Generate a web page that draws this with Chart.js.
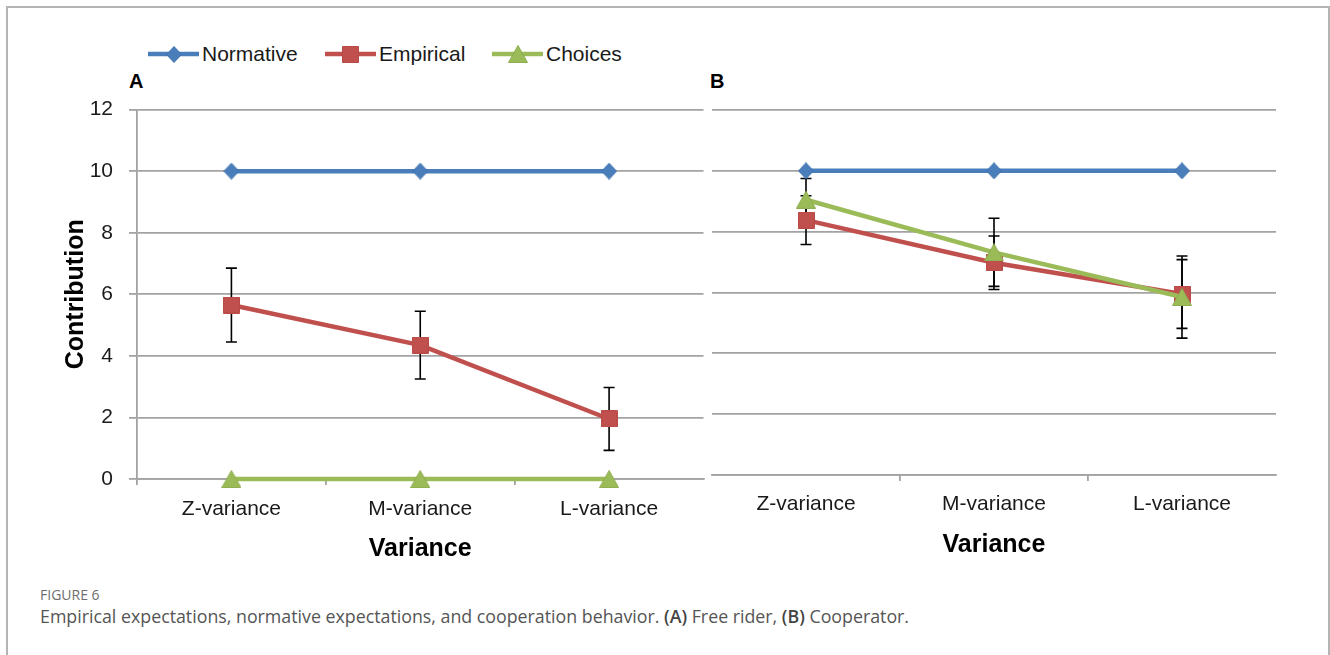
<!DOCTYPE html>
<html>
<head>
<meta charset="utf-8">
<script src="https://cdn.jsdelivr.net/npm/chart.js@4.4.1/dist/chart.umd.min.js"></script>
<style>
  html, body { margin: 0; padding: 0; background: #fff; }
  #page { position: relative; width: 1330px; height: 655px; overflow: hidden; font-family: "Liberation Sans", Arial, sans-serif; }
  #frame { position: absolute; left: 6px; top: 6px; width: 1320px; height: 700px; border: 2px solid #b4b4b4; }
  .leg { position: absolute; top: 40px; height: 28px; display: flex; align-items: center; font-size: 21px; color: #1a1a1a; white-space: nowrap; }
  .leg canvas { margin-right: 3px; }
  .panel { position: absolute; top: 70px; font-weight: bold; font-size: 20px; color: #000; }
  #chartA { position: absolute; left: 0; top: 81px; }
  #chartB { position: absolute; left: 700px; top: 88px; }
  #figno { position: absolute; left: 40px; top: 585px; font-family: "Open Sans", sans-serif; font-size: 14px; color: #6e6e6e; }
  #caption { position: absolute; left: 40px; top: 604px; font-family: "Open Sans", sans-serif; font-size: 17.8px; color: #555; white-space: nowrap; }
  #caption b { font-weight: 600; color: #444; }
</style>
</head>
<body>
<div id="page">
  <div id="frame"></div>
  <div class="leg" style="left:148px"><canvas id="legN" width="51" height="22"></canvas>Normative</div>
  <div class="leg" style="left:325px"><canvas id="legE" width="51" height="22"></canvas>Empirical</div>
  <div class="leg" style="left:492px"><canvas id="legC" width="51" height="22"></canvas>Choices</div>
  <div class="panel" style="left:129px">A</div>
  <div class="panel" style="left:710px">B</div>
  <canvas id="chartA" width="712" height="489"></canvas>
  <canvas id="chartB" width="630" height="482"></canvas>
  <div id="figno">FIGURE 6</div>
  <div id="caption">Empirical expectations, normative expectations, and cooperation behavior. <b>(A)</b> Free rider, <b>(B)</b> Cooperator.</div>
</div>
<script>
// Categories and tick labels
const categories = ['Z-variance', 'M-variance', 'L-variance'];
const yTicks = [0, 2, 4, 6, 8, 10, 12];
const seriesNames = ['Normative', 'Empirical', 'Choices'];

// Panel A: free riders
const normativeA = [10, 10, 10];
const empiricalA = [5.65, 4.35, 1.95];
const empiricalErrA = [1.2, 1.1, 1.02];
const choicesA = [0, 0, 0];

// Panel B: cooperators
const normativeB = [10, 10, 10];
const empiricalB = [8.38, 6.98, 5.95];
const empiricalErrB = [0.8, 0.88, 1.13];
const choicesB = [9.05, 7.32, 5.85];
const choicesErrB = [0.7, 1.12, 1.35];

const BLUE = '#4A7EBB', RED = '#C0504D', GREEN = '#9BBB59';
const GRID = '#a3a3a3';
const FONT = '"Liberation Sans", Arial, sans-serif';

// Excel-style marker bitmaps, centred on their bounding box
function makeMarker(shape, fill, stroke) {
  const c = document.createElement('canvas');
  const size = { diamond: [16, 17], square: [17, 17], triangle: [20, 18] }[shape];
  c.width = size[0]; c.height = size[1];
  const g = c.getContext('2d');
  const w = c.width, h = c.height;
  g.fillStyle = fill; g.strokeStyle = stroke; g.lineWidth = 1;
  g.beginPath();
  if (shape === 'diamond') {
    g.moveTo(w / 2, 0.5); g.lineTo(w - 0.5, h / 2); g.lineTo(w / 2, h - 0.5); g.lineTo(0.5, h / 2);
  } else if (shape === 'square') {
    g.rect(0.5, 0.5, w - 1, h - 1);
  } else {
    g.moveTo(w / 2, 0.5); g.lineTo(w - 0.5, h - 0.5); g.lineTo(0.5, h - 0.5);
  }
  g.closePath(); g.fill(); g.stroke();
  return c;
}
const diamond = makeMarker('diamond', BLUE, '#3f72ad');
const square = makeMarker('square', RED, '#b84a47');
const triangle = makeMarker('triangle', GREEN, '#8fae50');

// Legend swatches: line with marker in the middle
function drawSwatch(id, color, marker) {
  const c = document.getElementById(id), g = c.getContext('2d');
  g.strokeStyle = color; g.lineWidth = 4.5;
  g.beginPath(); g.moveTo(0, c.height / 2); g.lineTo(c.width, c.height / 2); g.stroke();
  g.drawImage(marker, Math.round((c.width - marker.width) / 2), Math.round((c.height - marker.height) / 2));
}
drawSwatch('legN', BLUE, diamond);
drawSwatch('legE', RED, square);
drawSwatch('legC', GREEN, triangle);

// Error bars drawn under the lines and markers
const errorBars = {
  id: 'errorBars',
  beforeDatasetsDraw(chart) {
    const ctx = chart.ctx, y = chart.scales.y;
    chart.data.datasets.forEach((ds, i) => {
      if (!ds.errors) return;
      const meta = chart.getDatasetMeta(i);
      ctx.save();
      ctx.strokeStyle = '#000'; ctx.lineWidth = 1.6;
      meta.data.forEach((pt, j) => {
        const e = ds.errors[j];
        const top = y.getPixelForValue(ds.data[j] + e);
        const bot = y.getPixelForValue(ds.data[j] - e);
        ctx.beginPath();
        ctx.moveTo(pt.x, top); ctx.lineTo(pt.x, bot);
        ctx.moveTo(pt.x - 5.5, top); ctx.lineTo(pt.x + 5.5, top);
        ctx.moveTo(pt.x - 5.5, bot); ctx.lineTo(pt.x + 5.5, bot);
        ctx.stroke();
      });
      ctx.restore();
    });
  }
};

function datasets(normative, empirical, empErr, choices, choiceErr) {
  const base = { borderWidth: 4.5, tension: 0, clip: false, fill: false };
  return [
    Object.assign({ label: seriesNames[0], data: normative, borderColor: BLUE, backgroundColor: BLUE, pointStyle: diamond, order: 2 }, base),
    Object.assign({ label: seriesNames[1], data: empirical, errors: empErr, borderColor: RED, backgroundColor: RED, pointStyle: square, order: 1 }, base),
    Object.assign({ label: seriesNames[2], data: choices, errors: choiceErr, borderColor: GREEN, backgroundColor: GREEN, pointStyle: triangle, order: 0 }, base)
  ];
}

function makeChart(id, opts) {
  return new Chart(document.getElementById(id), {
    type: 'line',
    data: { labels: categories, datasets: opts.datasets },
    plugins: [errorBars],
    options: {
      responsive: false,
      animation: false,
      devicePixelRatio: 1,
      layout: { padding: opts.padding },
      plugins: { legend: { display: false }, tooltip: { enabled: false } },
      scales: {
        x: {
          type: 'category',
          offset: true,
          grid: {
            offset: true,
            drawOnChartArea: false,
            drawTicks: true,
            tickLength: 6,
            lineWidth: 1.8,
            color: opts.xTickColor
          },
          border: { display: true, color: GRID, width: 1.8 },
          ticks: { font: { family: FONT, size: 21 }, color: '#1a1a1a', padding: opts.xTickPad, maxRotation: 0 },
          title: {
            display: true, text: 'Variance',
            font: { family: FONT, size: 25, weight: 'bold' }, color: '#000',
            padding: { top: 0, bottom: opts.xTitlePad }
          },
          afterFit(scale) { scale.height = opts.xHeight; }
        },
        y: {
          min: yTicks[0],
          max: yTicks[yTicks.length - 1],
          ticks: {
            stepSize: yTicks[1] - yTicks[0],
            display: opts.showY,
            font: { family: FONT, size: 21 }, color: '#1a1a1a', padding: 16
          },
          grid: { color: GRID, lineWidth: 1.8, drawTicks: opts.showY, tickLength: 8 },
          border: { display: opts.showY, color: GRID, width: 1.8 },
          title: {
            display: opts.showY, text: 'Contribution',
            font: { family: FONT, size: 25, weight: 'bold' }, color: '#000',
            padding: { top: 61, bottom: 0 }
          },
          afterFit(scale) { scale.width = opts.yWidth; }
        }
      }
    }
  });
}

makeChart('chartA', {
  datasets: datasets(normativeA, empiricalA, empiricalErrA, choicesA, null),
  padding: { top: 14, right: 7, bottom: 0, left: 0 },
  xHeight: 91, xTickPad: 12, xTitlePad: 6,
  yWidth: 137, showY: true,
  xTickColor: ctx => ctx.type === 'tick' ? GRID : 'rgba(0,0,0,0)'
});

makeChart('chartB', {
  datasets: datasets(normativeB, empiricalB, empiricalErrB, choicesB, choicesErrB),
  padding: { top: 22, right: 54, bottom: 0, left: 0 },
  xHeight: 95, xTickPad: 11, xTitlePad: 10,
  yWidth: 12, showY: false,
  xTickColor: ctx => (ctx.type === 'tick' && ctx.index > 0) ? GRID : 'rgba(0,0,0,0)'
});
</script>
</body>
</html>
